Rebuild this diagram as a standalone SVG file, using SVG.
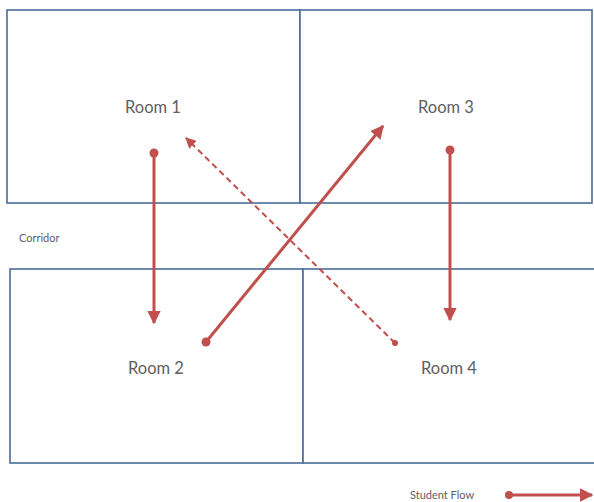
<svg xmlns="http://www.w3.org/2000/svg" width="594" height="502" viewBox="0 0 594 502">
<style>
.room{fill:#ffffff;stroke:#4a6b9a;stroke-width:1.6}
.lbl{font-family:Lato,"Open Sans",sans-serif;font-size:16.5px;fill:#606060;text-anchor:middle}
.small{font-family:Lato,"Open Sans",sans-serif;font-size:11px;fill:#606060}
.flow{stroke:#c0504d;stroke-width:3;fill:none}
.dash{stroke:#c0504d;stroke-width:2;fill:none;stroke-dasharray:6,4}
</style>
<defs>
<marker id="ah" viewBox="0 0 10 10" refX="9" refY="5" markerWidth="4.5" markerHeight="4.5" orient="auto" markerUnits="strokeWidth">
<path d="M0,0 L10,5 L0,10 z" fill="#c0504d"/>
</marker>
<marker id="ahd" viewBox="0 0 10 10" refX="9" refY="5" markerWidth="5.5" markerHeight="5.5" orient="auto" markerUnits="strokeWidth">
<path d="M0,0 L10,5 L0,10 z" fill="#c0504d"/>
</marker>
</defs>
<rect width="594" height="502" fill="#ffffff"/>
<g id="room1"><rect class="room" x="7" y="10" width="293" height="193"/><text class="lbl" x="153" y="113">Room 1</text></g>
<g id="room3"><rect class="room" x="300" y="10" width="292" height="193"/><text class="lbl" x="446" y="113">Room 3</text></g>
<g id="room2"><rect class="room" x="10" y="269" width="293" height="194"/><text class="lbl" x="156" y="374">Room 2</text></g>
<g id="room4"><rect class="room" x="303" y="269" width="300" height="194"/><text class="lbl" x="449" y="374">Room 4</text></g>
<g id="corridor"><text class="small" x="19" y="242">Corridor</text></g>
<g id="connectors">
<circle cx="154" cy="153" r="4.5" fill="#c0504d"/>
<line class="flow" x1="154" y1="153" x2="154" y2="323" marker-end="url(#ah)"/>
<circle cx="450" cy="150" r="4.5" fill="#c0504d"/>
<line class="flow" x1="450" y1="150" x2="450" y2="320" marker-end="url(#ah)"/>
<circle cx="206" cy="342" r="4.5" fill="#c0504d"/>
<line class="flow" x1="206" y1="342" x2="383" y2="126" marker-end="url(#ah)"/>
<circle cx="395" cy="343" r="3" fill="#c0504d"/>
<line class="dash" x1="395" y1="343" x2="186" y2="138" marker-end="url(#ahd)"/>
</g>
<g id="legend">
<text class="small" x="410" y="499">Student Flow</text>
<circle cx="509" cy="495" r="4" fill="#c0504d"/>
<line class="flow" x1="509" y1="495" x2="592" y2="495" marker-end="url(#ah)"/>
</g>
</svg>
